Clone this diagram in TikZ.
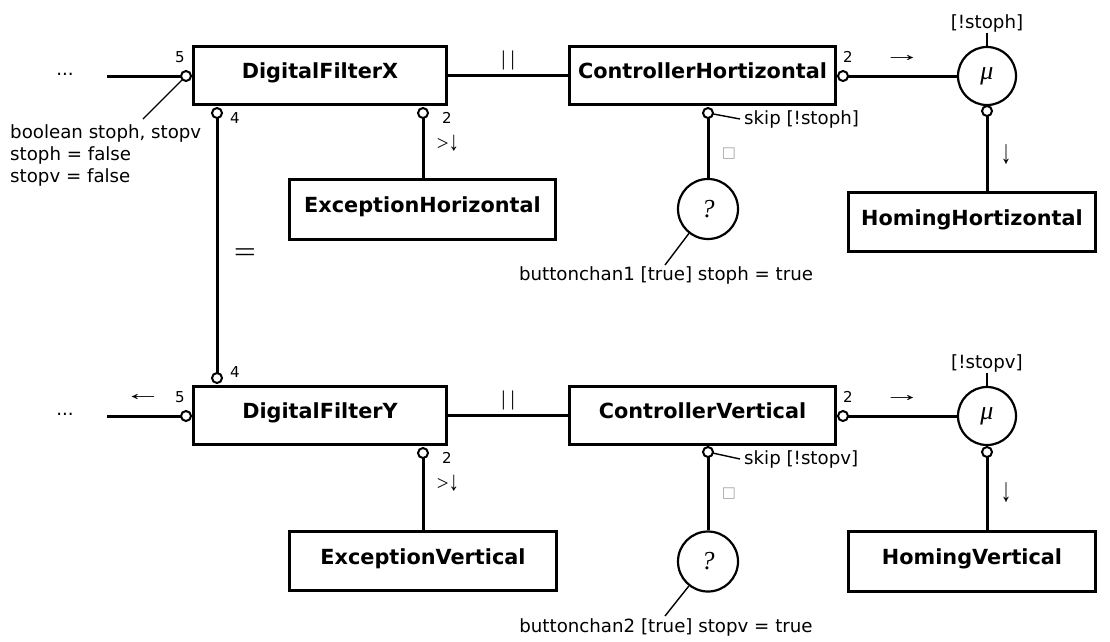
\documentclass[tikz,border=0pt]{standalone}
\usepackage{graphicx}
\usepackage{fontspec}
\newfontfamily\dv{DejaVu Sans}
\newfontfamily\lsi{Liberation Serif}
\newcommand\harr[1]{\scalebox{1.8}[1]{#1}}
\newcommand\varr[1]{\scalebox{1}[1.6]{#1}}
\tikzset{
  box/.style={draw, line width=3.2pt, inner sep=0pt, minimum height=58pt,
    font=\dv\bfseries\fontsize{20.8}{25}\selectfont, text height=15.2pt, text depth=9pt},
  port/.style={circle, draw, fill=white, line width=2pt, minimum size=10pt, inner sep=0pt},
  conn/.style={line width=3pt},
  ann/.style={line width=1.4pt},
  txt/.style={font=\dv\fontsize{18.2}{22}\selectfont, inner sep=0pt},
  num/.style={font=\dv\fontsize{15}{18}\selectfont, inner sep=0pt},
  op/.style={circle, draw, line width=2.2pt, minimum size=58pt, inner sep=0pt, font=\lsi\itshape\fontsize{26}{30}\selectfont},
  sym/.style={font=\lsi\fontsize{21}{24}\selectfont, inner sep=0pt},
  sq/.style={font=\dv\fontsize{15}{18}\selectfont, inner sep=0pt, text=gray!70},
}
\begin{document}
\begin{tikzpicture}[x=1pt,y=-1pt]
\useasboundingbox (0,0) rectangle (1110,641);
% ---------------- top row
\node[box, minimum width=253pt] (dfx) at (320,75.5) {DigitalFilterX};
\node[box, minimum width=266pt] (chx) at (702.5,75.5) {ControllerHortizontal};
\node[box, minimum width=266pt, minimum height=60pt] (exh) at (422.5,209.5) {ExceptionHorizontal};
\node[box, minimum width=247pt, minimum height=59pt] (homh) at (972,222) {HomingHortizontal};
\node[op] (mux) at (987,76) {μ};
\node[op, minimum size=60pt] (qx) at (708,209) {?};
% ---------------- bottom row
\node[box, minimum width=253pt] (dfy) at (320,415.5) {DigitalFilterY};
\node[box, minimum width=266pt] (chv) at (702.5,415.5) {ControllerVertical};
\node[box, minimum width=267pt, minimum height=59pt] (exv) at (423,561) {ExceptionVertical};
\node[box, minimum width=247pt, minimum height=60pt] (homv) at (972,561.5) {HomingVertical};
\node[op] (muy) at (987,416) {μ};
\node[op, minimum size=60pt] (qy) at (708,561.5) {?};
% ---------------- free ends
\coordinate (ex) at (107,76);
\coordinate (ey) at (107,416);
\coordinate (a5) at (143,119);
\coordinate (skx) at (740,119);
\coordinate (sky) at (740,459);
\coordinate (bqx) at (665,265);
\coordinate (bqy) at (665,616);
% ---------------- port positions
\coordinate (c5x) at (186,76);
\coordinate (c4x) at (217,113);
\coordinate (c2x) at (423,113);
\coordinate (cbx) at (708,113);
\coordinate (crx) at (843,76);
\coordinate (cmx) at (987,111);
\coordinate (c5y) at (186,416);
\coordinate (c4y) at (217,378);
\coordinate (c2y) at (423,453);
\coordinate (cby) at (708,452);
\coordinate (cry) at (843,416);
\coordinate (cmy) at (987,452);
% ---------------- connectors
\draw[conn] (ex) -- (c5x);
\draw[conn] (dfx.east) -- (chx.west);
\draw[conn] (crx) -- (mux.west);
\draw[conn] (cmx) -- (cmx |- homh.north);
\draw[conn] (c2x) -- (c2x |- exh.north);
\draw[conn] (cbx) -- (qx.north);
\draw[conn] (c4x) -- (c4y);
\draw[conn] (ey) -- (c5y);
\draw[conn] (dfy.east) -- (chv.west);
\draw[conn] (cry) -- (muy.west);
\draw[conn] (cmy) -- (cmy |- homv.north);
\draw[conn] (c2y) -- (c2y |- exv.north);
\draw[conn] (cby) -- (qy.north);
% annotations
\draw[ann] (c5x) -- (a5);
\draw[ann] (cbx) -- (skx);
\draw[ann] (cby) -- (sky);
\draw[ann] (qx.232) -- (bqx);
\draw[ann] (qy.232) -- (bqy);
% ---------------- ports
\foreach \p in {5x,4x,2x,bx,rx,mx,5y,4y,2y,by,ry,my}
  \node[port] (p\p) at (c\p) {};
% ---------------- labels
\node[txt, anchor=north west, align=left] (decl) at (10,124) {boolean stoph, stopv\\stoph = false\\stopv = false};
\node[txt] (dotsx) at (65,74) {...};
\node[txt] (dotsy) at (65,414) {...};
\node[num] (n5x) at (180,57) {5};
\node[num] (n4x) at (235,118) {4};
\node[num] (n2x) at (447,118) {2};
\node[num] (n2rx) at (848,57) {2};
\node[num] (n5y) at (180,397) {5};
\node[num] (n4y) at (235,372) {4};
\node[num] (n2y) at (447,458) {2};
\node[num] (n2ry) at (848,397) {2};
\node[sym] (parx) at (508,60) {|\hspace{5pt}|};
\node[sym] (pary) at (508,400) {|\hspace{5pt}|};
\node[sym, font=\lsi\fontsize{28}{30}\selectfont] (eq) at (245,255) {\scalebox{1.4}[1]{=}};
\node[sym] (arx) at (902,59) {\harr{→}};
\node[sym] (ary) at (902,399) {\harr{→}};
\node[sym] (aly) at (143,398) {\harr{←}};
\node[sym] (dnx) at (1006,155) {\varr{↓}};
\node[sym] (dny) at (1006,493) {\varr{↓}};
\node[sym] (gdx) at (448,143) {>\scalebox{1}[1.3]{↓}};
\node[sym] (gdy) at (448,483) {>\scalebox{1}[1.3]{↓}};
\node[sq] (sqx) at (729,154) {□};
\node[sq] (sqy) at (729,494) {□};
\node[txt, anchor=west] (skipx) at (744,119) {skip [!stoph]};
\node[txt, anchor=west] (skipy) at (744,459) {skip [!stopv]};
\node[txt, anchor=north] (btx) at (666,266) {buttonchan1 [true] stoph = true};
\node[txt, anchor=north] (bty) at (666,618) {buttonchan2 [true] stopv = true};
\node[txt, anchor=south] (gx) at (987,32.5) {[!stoph]};
\node[txt, anchor=south] (gy) at (987,372.5) {[!stopv]};
\draw[ann] (gx.south) -- (mux.north);
\draw[ann] (gy.south) -- (muy.north);
\end{tikzpicture}
\end{document}
